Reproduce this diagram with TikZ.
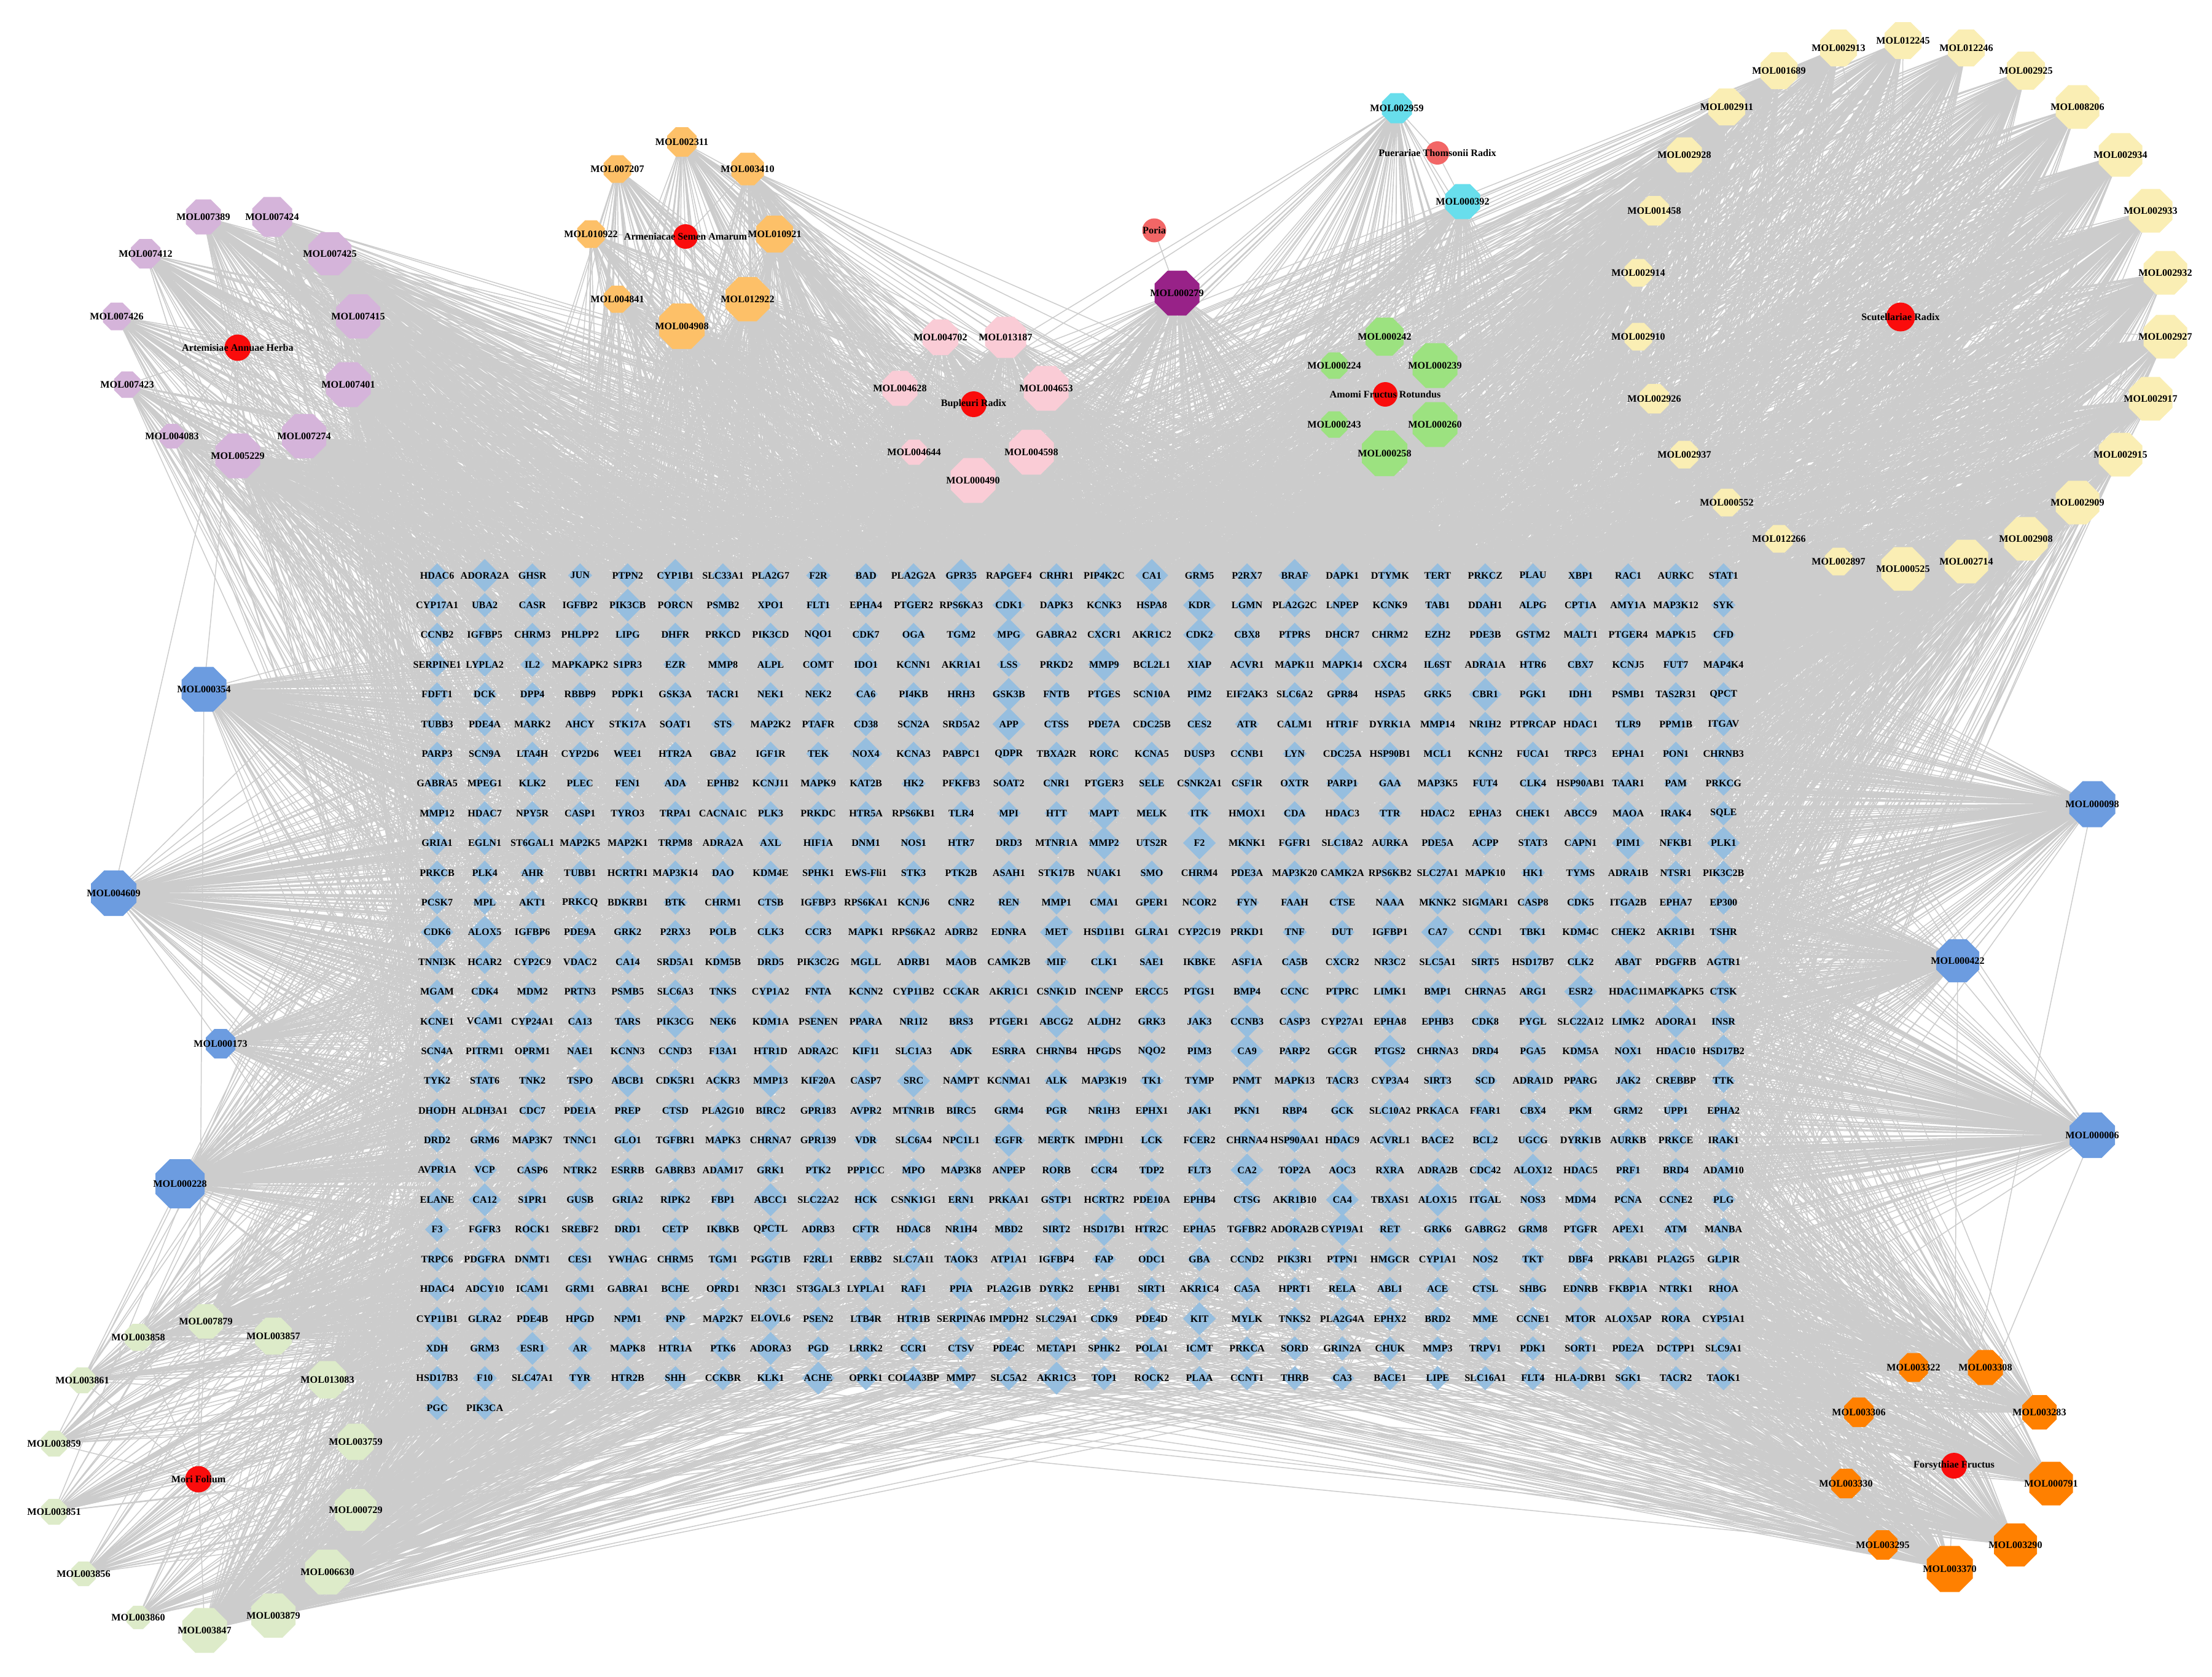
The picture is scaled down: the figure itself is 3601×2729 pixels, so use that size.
\documentclass[tikz,border=0pt]{standalone}
\usepackage{fontspec}
\setmainfont{Liberation Serif}
\usetikzlibrary{shapes.geometric,backgrounds}

\definecolor{edgegray}{RGB}{204,204,204}
\definecolor{targetblue}{RGB}{150,190,223}
\definecolor{herbred}{RGB}{250,12,12}
\definecolor{herbsalmon}{RGB}{242,102,102}
\definecolor{molpurple}{RGB}{213,180,218}
\definecolor{molapricot}{RGB}{253,192,104}
\definecolor{molpink}{RGB}{250,204,214}
\definecolor{molplum}{RGB}{152,34,136}
\definecolor{molcyan}{RGB}{104,222,236}
\definecolor{molgreen}{RGB}{156,226,128}
\definecolor{molyellow}{RGB}{250,238,180}
\definecolor{molblue}{RGB}{108,156,224}
\definecolor{molmint}{RGB}{221,235,201}
\definecolor{molorange}{RGB}{255,128,0}

\tikzset{
  link/.style={draw=edgegray, line width=0.42pt},
  lbl/.style={font=\fontsize{4.6}{5}\selectfont\bfseries, inner sep=0pt, text=black},
  target/.style={diamond, aspect=1, fill=targetblue, inner sep=0pt,
    minimum width={#1*0.01cm}, minimum height={#1*0.01cm}},
  mol/.style={regular polygon, regular polygon sides=8, inner sep=0pt,
    minimum size={#1*0.010824cm}},
  herb/.style={circle, inner sep=0pt, minimum size={#1*0.01cm}},
}

% compounds of one herb: name/x/y/size, each linked to the herb and to targets
\newcommand{\cluster}[3]{%
  \foreach \nm/\x/\y/\sz in {#3} {
    \node[mol=\sz, fill=#2, label={[lbl]center:\nm}] (\nm) at (\x,\y) {};
    \pgfmathtruncatemacro\cnt{3.4*(\sz-28)}
    \begin{scope}[on background layer]
      \draw[link] (#1.center) -- (\nm.center);
      \draw[link] \foreach \kk [evaluate=\kk as \tg using {int(random(1,786))}] in {1,...,\cnt}
        {(\nm.center) -- (t\tg.center)};
    \end{scope}
  }%
}

% larger target diamonds
\foreach \gene in {ADORA2A,CYP1B1,GPR35,CA1,BRAF,PIK3CB,CDK1,KDR,CDK2,MPG,MMP9,MAPK14,
  GSK3B,CBR1,APP,NOX4,CSNK2A1,PARP1,MAPT,MMP2,F2,PIM1,PLK1,CDK6,ALOX5,MET,CA7,AKR1B1,
  ESR2,ABCG2,CCNB3,ADORA1,PIK3CG,CA9,HSD17B2,ABCB1,MMP13,SRC,EGFR,CA2,ALOX12,CA12,
  ABCC1,CA4,ALOX15,HSD17B1,CYP19A1,KIT,ESR1,ADORA3,AKR1C3,ACHE,PTGS2}
  {\expandafter\gdef\csname big@\gene\endcsname{}}

\begin{document}
\begin{tikzpicture}[x=0.01cm, y=-0.01cm]
\useasboundingbox (0,0) rectangle (3601,2729);
\pgfmathsetseed{1357}

% white sheet
\begin{scope}[on background layer]
  \fill[white] (0,0) rectangle (3601,2729);
\end{scope}

% The target grid
\def\xA{711.6}
\def\yA{936.7}
\def\dx{77.56}
\def\dy{48.4}
\foreach \rowlist [count=\rr] in {
{HDAC6,ADORA2A,GHSR,JUN,PTPN2,CYP1B1,SLC33A1,PLA2G7,F2R,BAD,PLA2G2A,GPR35,RAPGEF4,CRHR1,PIP4K2C,CA1,GRM5,P2RX7,BRAF,DAPK1,DTYMK,TERT,PRKCZ,PLAU,XBP1,RAC1,AURKC,STAT1},
{CYP17A1,UBA2,CASR,IGFBP2,PIK3CB,PORCN,PSMB2,XPO1,FLT1,EPHA4,PTGER2,RPS6KA3,CDK1,DAPK3,KCNK3,HSPA8,KDR,LGMN,PLA2G2C,LNPEP,KCNK9,TAB1,DDAH1,ALPG,CPT1A,AMY1A,MAP3K12,SYK},
{CCNB2,IGFBP5,CHRM3,PHLPP2,LIPG,DHFR,PRKCD,PIK3CD,NQO1,CDK7,OGA,TGM2,MPG,GABRA2,CXCR1,AKR1C2,CDK2,CBX8,PTPRS,DHCR7,CHRM2,EZH2,PDE3B,GSTM2,MALT1,PTGER4,MAPK15,CFD},
{SERPINE1,LYPLA2,IL2,MAPKAPK2,S1PR3,EZR,MMP8,ALPL,COMT,IDO1,KCNN1,AKR1A1,LSS,PRKD2,MMP9,BCL2L1,XIAP,ACVR1,MAPK11,MAPK14,CXCR4,IL6ST,ADRA1A,HTR6,CBX7,KCNJ5,FUT7,MAP4K4},
{FDFT1,DCK,DPP4,RBBP9,PDPK1,GSK3A,TACR1,NEK1,NEK2,CA6,PI4KB,HRH3,GSK3B,FNTB,PTGES,SCN10A,PIM2,EIF2AK3,SLC6A2,GPR84,HSPA5,GRK5,CBR1,PGK1,IDH1,PSMB1,TAS2R31,QPCT},
{TUBB3,PDE4A,MARK2,AHCY,STK17A,SOAT1,STS,MAP2K2,PTAFR,CD38,SCN2A,SRD5A2,APP,CTSS,PDE7A,CDC25B,CES2,ATR,CALM1,HTR1F,DYRK1A,MMP14,NR1H2,PTPRCAP,HDAC1,TLR9,PPM1B,ITGAV},
{PARP3,SCN9A,LTA4H,CYP2D6,WEE1,HTR2A,GBA2,IGF1R,TEK,NOX4,KCNA3,PABPC1,QDPR,TBXA2R,RORC,KCNA5,DUSP3,CCNB1,LYN,CDC25A,HSP90B1,MCL1,KCNH2,FUCA1,TRPC3,EPHA1,PON1,CHRNB3},
{GABRA5,MPEG1,KLK2,PLEC,FEN1,ADA,EPHB2,KCNJ11,MAPK9,KAT2B,HK2,PFKFB3,SOAT2,CNR1,PTGER3,SELE,CSNK2A1,CSF1R,OXTR,PARP1,GAA,MAP3K5,FUT4,CLK4,HSP90AB1,TAAR1,PAM,PRKCG},
{MMP12,HDAC7,NPY5R,CASP1,TYRO3,TRPA1,CACNA1C,PLK3,PRKDC,HTR5A,RPS6KB1,TLR4,MPI,HTT,MAPT,MELK,ITK,HMOX1,CDA,HDAC3,TTR,HDAC2,EPHA3,CHEK1,ABCC9,MAOA,IRAK4,SQLE},
{GRIA1,EGLN1,ST6GAL1,MAP2K5,MAP2K1,TRPM8,ADRA2A,AXL,HIF1A,DNM1,NOS1,HTR7,DRD3,MTNR1A,MMP2,UTS2R,F2,MKNK1,FGFR1,SLC18A2,AURKA,PDE5A,ACPP,STAT3,CAPN1,PIM1,NFKB1,PLK1},
{PRKCB,PLK4,AHR,TUBB1,HCRTR1,MAP3K14,DAO,KDM4E,SPHK1,EWS-Fli1,STK3,PTK2B,ASAH1,STK17B,NUAK1,SMO,CHRM4,PDE3A,MAP3K20,CAMK2A,RPS6KB2,SLC27A1,MAPK10,HK1,TYMS,ADRA1B,NTSR1,PIK3C2B},
{PCSK7,MPL,AKT1,PRKCQ,BDKRB1,BTK,CHRM1,CTSB,IGFBP3,RPS6KA1,KCNJ6,CNR2,REN,MMP1,CMA1,GPER1,NCOR2,FYN,FAAH,CTSE,NAAA,MKNK2,SIGMAR1,CASP8,CDK5,ITGA2B,EPHA7,EP300},
{CDK6,ALOX5,IGFBP6,PDE9A,GRK2,P2RX3,POLB,CLK3,CCR3,MAPK1,RPS6KA2,ADRB2,EDNRA,MET,HSD11B1,GLRA1,CYP2C19,PRKD1,TNF,DUT,IGFBP1,CA7,CCND1,TBK1,KDM4C,CHEK2,AKR1B1,TSHR},
{TNNI3K,HCAR2,CYP2C9,VDAC2,CA14,SRD5A1,KDM5B,DRD5,PIK3C2G,MGLL,ADRB1,MAOB,CAMK2B,MIF,CLK1,SAE1,IKBKE,ASF1A,CA5B,CXCR2,NR3C2,SLC5A1,SIRT5,HSD17B7,CLK2,ABAT,PDGFRB,AGTR1},
{MGAM,CDK4,MDM2,PRTN3,PSMB5,SLC6A3,TNKS,CYP1A2,FNTA,KCNN2,CYP11B2,CCKAR,AKR1C1,CSNK1D,INCENP,ERCC5,PTGS1,BMP4,CCNC,PTPRC,LIMK1,BMP1,CHRNA5,ARG1,ESR2,HDAC11,MAPKAPK5,CTSK},
{KCNE1,VCAM1,CYP24A1,CA13,TARS,PIK3CG,NEK6,KDM1A,PSENEN,PPARA,NR1I2,BRS3,PTGER1,ABCG2,ALDH2,GRK3,JAK3,CCNB3,CASP3,CYP27A1,EPHA8,EPHB3,CDK8,PYGL,SLC22A12,LIMK2,ADORA1,INSR},
{SCN4A,PITRM1,OPRM1,NAE1,KCNN3,CCND3,F13A1,HTR1D,ADRA2C,KIF11,SLC1A3,ADK,ESRRA,CHRNB4,HPGDS,NQO2,PIM3,CA9,PARP2,GCGR,PTGS2,CHRNA3,DRD4,PGA5,KDM5A,NOX1,HDAC10,HSD17B2},
{TYK2,STAT6,TNK2,TSPO,ABCB1,CDK5R1,ACKR3,MMP13,KIF20A,CASP7,SRC,NAMPT,KCNMA1,ALK,MAP3K19,TK1,TYMP,PNMT,MAPK13,TACR3,CYP3A4,SIRT3,SCD,ADRA1D,PPARG,JAK2,CREBBP,TTK},
{DHODH,ALDH3A1,CDC7,PDE1A,PREP,CTSD,PLA2G10,BIRC2,GPR183,AVPR2,MTNR1B,BIRC5,GRM4,PGR,NR1H3,EPHX1,JAK1,PKN1,RBP4,GCK,SLC10A2,PRKACA,FFAR1,CBX4,PKM,GRM2,UPP1,EPHA2},
{DRD2,GRM6,MAP3K7,TNNC1,GLO1,TGFBR1,MAPK3,CHRNA7,GPR139,VDR,SLC6A4,NPC1L1,EGFR,MERTK,IMPDH1,LCK,FCER2,CHRNA4,HSP90AA1,HDAC9,ACVRL1,BACE2,BCL2,UGCG,DYRK1B,AURKB,PRKCE,IRAK1},
{AVPR1A,VCP,CASP6,NTRK2,ESRRB,GABRB3,ADAM17,GRK1,PTK2,PPP1CC,MPO,MAP3K8,ANPEP,RORB,CCR4,TDP2,FLT3,CA2,TOP2A,AOC3,RXRA,ADRA2B,CDC42,ALOX12,HDAC5,PRF1,BRD4,ADAM10},
{ELANE,CA12,S1PR1,GUSB,GRIA2,RIPK2,FBP1,ABCC1,SLC22A2,HCK,CSNK1G1,ERN1,PRKAA1,GSTP1,HCRTR2,PDE10A,EPHB4,CTSG,AKR1B10,CA4,TBXAS1,ALOX15,ITGAL,NOS3,MDM4,PCNA,CCNE2,PLG},
{F3,FGFR3,ROCK1,SREBF2,DRD1,CETP,IKBKB,QPCTL,ADRB3,CFTR,HDAC8,NR1H4,MBD2,SIRT2,HSD17B1,HTR2C,EPHA5,TGFBR2,ADORA2B,CYP19A1,RET,GRK6,GABRG2,GRM8,PTGFR,APEX1,ATM,MANBA},
{TRPC6,PDGFRA,DNMT1,CES1,YWHAG,CHRM5,TGM1,PGGT1B,F2RL1,ERBB2,SLC7A11,TAOK3,ATP1A1,IGFBP4,FAP,ODC1,GBA,CCND2,PIK3R1,PTPN1,HMGCR,CYP1A1,NOS2,TKT,DBF4,PRKAB1,PLA2G5,GLP1R},
{HDAC4,ADCY10,ICAM1,GRM1,GABRA1,BCHE,OPRD1,NR3C1,ST3GAL3,LYPLA1,RAF1,PPIA,PLA2G1B,DYRK2,EPHB1,SIRT1,AKR1C4,CA5A,HPRT1,RELA,ABL1,ACE,CTSL,SHBG,EDNRB,FKBP1A,NTRK1,RHOA},
{CYP11B1,GLRA2,PDE4B,HPGD,NPM1,PNP,MAP2K7,ELOVL6,PSEN2,LTB4R,HTR1B,SERPINA6,IMPDH2,SLC29A1,CDK9,PDE4D,KIT,MYLK,TNKS2,PLA2G4A,EPHX2,BRD2,MME,CCNE1,MTOR,ALOX5AP,RORA,CYP51A1},
{XDH,GRM3,ESR1,AR,MAPK8,HTR1A,PTK6,ADORA3,PGD,LRRK2,CCR1,CTSV,PDE4C,METAP1,SPHK2,POLA1,ICMT,PRKCA,SORD,GRIN2A,CHUK,MMP3,TRPV1,PDK1,SORT1,PDE2A,DCTPP1,SLC9A1},
{HSD17B3,F10,SLC47A1,TYR,HTR2B,SHH,CCKBR,KLK1,ACHE,OPRK1,COL4A3BP,MMP7,SLC5A2,AKR1C3,TOP1,ROCK2,PLAA,CCNT1,THRB,CA3,BACE1,LIPE,SLC16A1,FLT4,HLA-DRB1,SGK1,TACR2,TAOK1},
{PGC,PIK3CA}} {
  \foreach \gene [count=\col] in \rowlist {
    \pgfmathtruncatemacro\idx{(\rr-1)*28+\col}
    \ifcsname big@\gene\endcsname\def\tsz{54}\else\def\tsz{40}\fi
    \node[target=\tsz, label={[lbl]center:\gene}] (t\idx) at ({\xA+(\col-1)*\dx},{\yA+(\rr-1)*\dy}) {};
  }
}

% herbs
\node[herb=43, fill=herbred]    (hArtemisiae)  at (387,566) {};
\node[herb=40, fill=herbred]    (hArmeniacae)  at (1116,385) {};
\node[herb=42, fill=herbred]    (hBupleuri)    at (1585,658) {};
\node[herb=39, fill=herbsalmon] (hPoria)       at (1879,375) {};
\node[herb=38, fill=herbsalmon] (hPueraria)    at (2340,249) {};
\node[herb=40, fill=herbred]    (hAmomi)       at (2255,642) {};
\node[herb=47, fill=herbred]    (hScutellaria) at (3094,516) {};
\node[herb=43, fill=herbred]    (hMori)        at (323,2408) {};
\node[herb=42, fill=herbred]    (hForsythia)   at (3181,2386) {};

% Artemisiae Annuae Herba
\cluster{hArtemisiae}{molpurple}{MOL007389/331/353/57, MOL007424/443/353/65,
  MOL007412/237/413/48, MOL007425/537/413/70, MOL007426/190/515/45, MOL007415/583/515/72,
  MOL007423/207/626/43, MOL007401/567/626/73, MOL004083/280/710/40, MOL005229/387/742/73,
  MOL007274/495/710/72}

% Armeniacae Semen Amarum
\cluster{hArmeniacae}{molapricot}{MOL002311/1110/231/48, MOL007207/1005/275/45,
  MOL003410/1217/275/53, MOL010922/962/381/45, MOL010921/1261/381/60, MOL004841/1005/487/44,
  MOL012922/1217/487/72, MOL004908/1110/531/74}

% Bupleuri Radix
\cluster{hBupleuri}{molpink}{MOL004702/1531/549/58, MOL013187/1637/549/67,
  MOL004628/1465/632/57, MOL004653/1703/632/73, MOL004644/1488/736/41,
  MOL004598/1679/736/73, MOL000490/1584/782/73}

% Poria
\cluster{hPoria}{molplum}{MOL000279/1916/477/73}

% Puerariae Thomsonii Radix
\cluster{hPueraria}{molcyan}{MOL002959/2274/176/49, MOL000392/2381/328/57}

% Amomi Fructus Rotundus
\cluster{hAmomi}{molgreen}{MOL000242/2254/548/62, MOL000224/2172/595/43,
  MOL000239/2336/595/73, MOL000243/2172/691/43, MOL000260/2336/691/73, MOL000258/2254/738/74}

% Scutellariae Radix, ring of compounds
\cluster{hScutellaria}{molyellow}{MOL012245/3098/66/60, MOL012246/3201/78/60,
  MOL002925/3298/115/62, MOL008206/3382/174/71, MOL002934/3452/252/71, MOL002933/3501/343/71,
  MOL002932/3525/444/71, MOL002927/3525/548/71, MOL002917/3501/649/71, MOL002915/3452/740/71,
  MOL002909/3382/818/71, MOL002908/3298/877/71, MOL002714/3201/914/71, MOL000525/3098/926/71,
  MOL002897/2993/914/45, MOL012266/2896/877/45, MOL000552/2811/818/45, MOL002937/2742/740/45,
  MOL002926/2693/649/48, MOL002910/2667/548/45, MOL002914/2667/444/45, MOL001458/2693/343/48,
  MOL002928/2742/252/57, MOL002911/2811/174/60, MOL001689/2896/115/60, MOL002913/2993/78/60}

% Mori Folium
\cluster{hMori}{molmint}{MOL007879/335/2151/56, MOL003858/225/2177/44, MOL003857/445/2175/60,
  MOL003861/134/2247/42, MOL013083/533/2246/61, MOL003859/88/2350/42, MOL003759/579/2347/59,
  MOL003851/88/2461/42, MOL000729/579/2458/68, MOL003856/136/2562/40, MOL006630/533/2559/73,
  MOL003860/225/2633/38, MOL003847/333/2654/73, MOL003879/445/2630/72}

% Forsythiae Fructus
\cluster{hForsythia}{molorange}{MOL003322/3115/2226/47, MOL003308/3232/2226/57,
  MOL003306/3026/2299/48, MOL003283/3320/2299/56, MOL003330/3005/2415/48,
  MOL000791/3339/2415/71, MOL003295/3065/2515/48, MOL003290/3281/2515/70, MOL003370/3174/2554/75}

% shared compounds
\foreach \nm/\x/\y/\sz in {MOL000354/332/1122/73, MOL004609/185/1454/74, MOL000173/359/1699/48,
  MOL000228/293/1927/80, MOL000098/3406/1309/75, MOL000422/3187/1564/70, MOL000006/3406/1848/74} {
  \node[mol=\sz, fill=molblue, label={[lbl]center:\nm}] (\nm) at (\x,\y) {};
  \pgfmathtruncatemacro\cnt{4.5*(\sz-28)}
  \begin{scope}[on background layer]
    \draw[link] \foreach \kk [evaluate=\kk as \tg using {int(random(1,786))}] in {1,...,\cnt}
      {(\nm.center) -- (t\tg.center)};
  \end{scope}
}
\begin{scope}[on background layer]
  \foreach \a/\b in {MOL000354/hArtemisiae, MOL000354/hMori, MOL004609/hArtemisiae,
    MOL000173/hScutellaria, MOL000228/hScutellaria, MOL000098/hForsythia, MOL000098/hMori,
    MOL000098/hArtemisiae, MOL000098/hBupleuri, MOL000422/hForsythia, MOL000422/hArtemisiae,
    MOL000422/hMori, MOL000006/hForsythia, MOL000006/hArtemisiae}
    \draw[link] (\a.center) -- (\b.center);
\end{scope}

% herb names on top
\node[lbl] (nArtemisiae)  at (hArtemisiae)  {Artemisiae Annuae Herba};
\node[lbl] (nArmeniacae)  at (hArmeniacae)  {Armeniacae Semen Amarum};
\node[lbl] (nBupleuri)    at (hBupleuri)    {Bupleuri Radix};
\node[lbl] (nPoria)       at (hPoria)       {Poria};
\node[lbl] (nPueraria)    at (hPueraria)    {Puerariae Thomsonii Radix};
\node[lbl] (nAmomi)       at (hAmomi)       {Amomi Fructus Rotundus};
\node[lbl] (nScutellaria) at (hScutellaria) {Scutellariae Radix};
\node[lbl] (nMori)        at (hMori)        {Mori Folium};
\node[lbl] (nForsythia)   at (hForsythia)   {Forsythiae Fructus};

\end{tikzpicture}
\end{document}
